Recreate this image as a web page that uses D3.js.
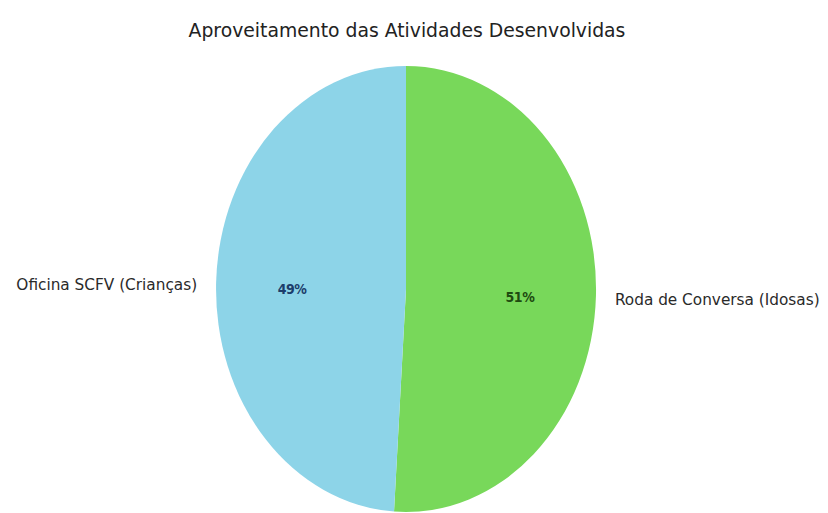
<!DOCTYPE html>
<html>
<head>
<meta charset="utf-8">
<script src="https://cdn.jsdelivr.net/npm/d3@7"></script>
<style>
  body { margin: 0; background: #fff; }
  svg { font-family: "DejaVu Sans", sans-serif; }
</style>
</head>
<body>
<svg id="chart" width="828" height="513"></svg>
<script>
const categories = ["Roda de Conversa (Idosas)", "Oficina SCFV (Crianças)"];
const values = [51, 49];
const colors = ["#78d85a", "#8dd4e8"];
const pctColors = ["#1e4a10", "#1c3d6b"];

const svg = d3.select("#chart");
const width = 828, height = 513;
const cx = 406, cy = 289;
const rx = 190, ry = 223;

svg.append("text")
    .attr("x", cx + 1)
    .attr("y", 37)
    .attr("text-anchor", "middle")
    .attr("font-size", "18.8px")
    .attr("fill", "#222")
    .text("Aproveitamento das Atividades Desenvolvidas");

const data = categories.map((c, i) => ({ name: c, value: values[i], color: colors[i], pc: pctColors[i] }));

const pie = d3.pie().sort(null).value(d => d.value);
const arcs = pie(data);

// unit arc, stretched into an ellipse
const arc = d3.arc().innerRadius(0).outerRadius(1);

const g = svg.append("g").attr("transform", `translate(${cx},${cy})`);

g.append("g")
    .attr("transform", `scale(${rx},${ry})`)
    .selectAll("path")
    .data(arcs)
    .join("path")
    .attr("d", arc)
    .attr("fill", d => d.data.color);

function pos(d, r) {
    const a = (d.startAngle + d.endAngle) / 2;
    return [Math.sin(a) * r * rx, -Math.cos(a) * r * ry];
}

g.selectAll("text.pct")
    .data(arcs)
    .join("text")
    .attr("class", "pct")
    .attr("x", d => pos(d, 0.6)[0])
    .attr("y", d => pos(d, 0.6)[1] + 4)
    .attr("dy", "0.35em")
    .attr("text-anchor", "middle")
    .attr("font-family", "'DejaVu Sans Condensed', 'DejaVu Sans', sans-serif")
    .attr("font-size", "14px")
    .attr("font-weight", "bold")
    .attr("letter-spacing", "-0.5px")
    .attr("fill", d => d.data.pc)
    .text(d => d.data.value + "%");

g.selectAll("text.lbl")
    .data(arcs)
    .join("text")
    .attr("class", "lbl")
    .attr("x", d => pos(d, 1.1)[0])
    .attr("y", d => pos(d, 1.1)[1] + 3)
    .attr("dy", "0.35em")
    .attr("text-anchor", d => pos(d, 1)[0] > 0 ? "start" : "end")
    .attr("font-size", "15.3px")
    .attr("fill", "#2a2a2a")
    .text(d => d.data.name);
</script>
</body>
</html>
